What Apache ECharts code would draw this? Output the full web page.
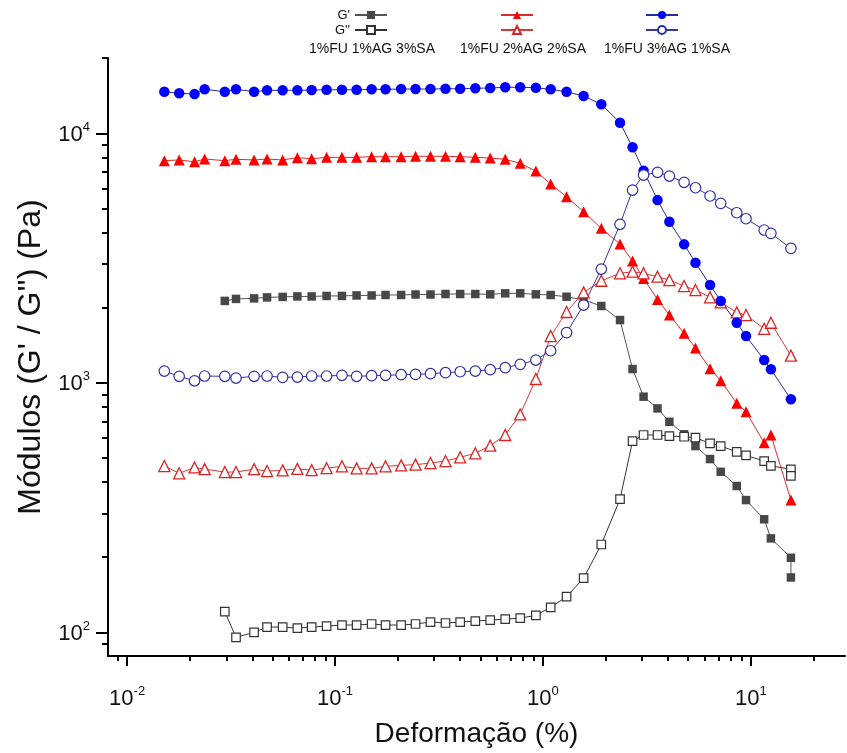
<!DOCTYPE html>
<html><head><meta charset="utf-8">
<script src="https://cdn.jsdelivr.net/npm/echarts@6/dist/echarts.min.js"></script>
<style>html,body{margin:0;padding:0;background:#fff}#c{width:847px;height:753px}</style>
</head><body><div id="c"></div>
<script>
// ---- data (strain %, moduli Pa) ----
const strain = [0.0151,0.0178,0.0211,0.0236,0.0295,0.0334,0.0408,0.0471,0.056,0.0659,0.0772,0.0911,0.108,0.127,0.15,0.175,0.208,0.244,0.288,0.34,0.4,0.473,0.558,0.659,0.778,0.925,1.09,1.3,1.57,1.91,2.35,2.7,3.05,3.56,4.06,4.78,5.42,6.37,7.17,8.56,9.49,11.6,12.5,15.6];
const strainBlack = [0.0295,0.0334,0.0408,0.0471,0.056,0.0659,0.0772,0.0911,0.108,0.127,0.15,0.175,0.208,0.244,0.288,0.34,0.4,0.473,0.558,0.659,0.778,0.925,1.09,1.3,1.57,1.91,2.35,2.7,3.05,3.56,4.06,4.78,5.42,6.37,7.17,8.56,9.49,11.6,12.5,15.6,15.6];

const blackGp  = [2130,2170,2180,2200,2210,2220,2220,2230,2230,2240,2240,2250,2250,2260,2260,2270,2270,2270,2263,2284,2284,2263,2249,2214,2150,2032,1785,1136,880,790,698,622,558,495,440,386,339,284,238,199,166];
const blackGpp = [121,95.5,100,105,105,104,105,106,107,107,108,107,107,108,110,109,110,111,112,113,114,117,126,139,165,225,342,584,618,618,612,608,603,572,558,529,512,486,465,450,424];
const redGp  = [7770,7820,7690,7890,7770,7870,7820,7890,7820,7990,7910,8010,8010,8010,8060,8060,8060,8090,8090,8090,8060,8010,7960,7870,7580,7060,6260,5570,4850,4160,3600,3080,2620,2160,1870,1580,1380,1140,1020,828,766,575,618,339];
const redGpp = [464,434,458,451,439,439,451,443,446,452,447,455,463,454,454,463,467,470,477,486,503,522,560,618,747,1036,1540,1923,2305,2566,2748,2789,2748,2663,2582,2443,2355,2202,2102,1916,1869,1647,1741,1286];
const blueGp  = [14680,14470,14370,15010,14680,15010,14680,14870,14870,14870,14910,14950,14950,14950,15010,15010,15050,15050,15050,15090,15090,15150,15200,15290,15290,15230,15010,14680,14110,13070,11030,8790,7080,5400,4420,3590,3030,2466,2128,1741,1540,1234,1133,859];
const blueGpp = [1115,1062,1019,1065,1062,1045,1062,1065,1052,1055,1065,1065,1072,1062,1068,1072,1078,1081,1088,1098,1108,1115,1129,1150,1186,1234,1345,1590,2050,2858,4318,5925,6805,6977,6743,6363,6053,5609,5241,4806,4547,4097,3973,3459];

const groupLabels = ['1%FU 1%AG 3%SA','1%FU 2%AG 2%SA','1%FU 3%AG 1%SA'];
const xMajor = [0.01,0.1,1,10];
const xMinor = [0.008,0.009,0.02,0.03,0.04,0.05,0.06,0.07,0.08,0.09,0.2,0.3,0.4,0.5,0.6,0.7,0.8,0.9,2,3,4,5,6,7,8,9,20];
const yMajor = [100,1000,10000];
const yMinor = [90,200,300,400,500,600,700,800,900,2000,3000,4000,5000,6000,7000,8000,9000,20000];

// ---- chart ----
const FONT = '"Liberation Sans", Arial, sans-serif';
const xMin = 0.00809, xMax = 28.4, yMin = 80.4, yMax = 20040;
const chart = echarts.init(document.getElementById('c'), null, {renderer: 'canvas'});

function pow10Label(v) {
  const e = Math.round(Math.log(v) / Math.LN10);
  return '{b|10}{s|' + e + '}';
}
const rich = {
  b: {fontSize: 22, fontFamily: FONT, color: '#111', lineHeight: 25, verticalAlign: 'bottom'},
  s: {fontSize: 13, fontFamily: FONT, color: '#111', lineHeight: 13, verticalAlign: 'top'}
};

function mk(name, xs, ys, symbol, size, fill, stroke, lineColor, bw) {
  return {
    name: name, type: 'line', xAxisIndex: 0, yAxisIndex: 0,
    data: xs.map((x, i) => [x, ys[i]]),
    symbol: symbol, symbolSize: size, showAllSymbol: true,
    itemStyle: {color: fill, borderColor: stroke, borderWidth: bw},
    lineStyle: {color: lineColor, width: 1},
    emphasis: {disabled: true}, animation: false
  };
}
const N = {
  bp: "G' " + groupLabels[0], bpp: "G'' " + groupLabels[0],
  rp: "G' " + groupLabels[1], rpp: "G'' " + groupLabels[1],
  up: "G' " + groupLabels[2], upp: "G'' " + groupLabels[2]
};
const series = [
  mk(N.bp, strainBlack, blackGp, 'rect', 8.5, '#474747', '#474747', '#555555', 0),
  mk(N.bpp, strainBlack, blackGpp, 'rect', 8.5, '#ffffff', '#333333', '#333333', 1.2),
  mk(N.rp, strain, redGp, 'triangle', 11, '#ff0000', '#ff0000', '#e02a2a', 0),
  mk(N.rpp, strain, redGpp, 'triangle', 11, '#ffffff', '#dd2222', '#d43a3a', 1.3),
  mk(N.up, strain, blueGp, 'circle', 10.5, '#0000ff', '#0000ff', '#2a2a9e', 0),
  mk(N.upp, strain, blueGpp, 'circle', 10.5, '#ffffff', '#2f2fa8', '#3535a5', 1.2)
];

const legendCommon = {
  orient: 'vertical', top: 8, padding: 0, itemGap: 1, itemWidth: 32, itemHeight: 10,
  selectedMode: false,
  textStyle: {fontSize: 13, lineHeight: 14, fontFamily: FONT, color: '#111'}
};

chart.setOption({
  animation: false,
  backgroundColor: '#ffffff',
  grid: {left: 108, right: 2, top: 58, bottom: 97, outerBoundsMode: 'none', containLabel: false},
  legend: [
    Object.assign({}, legendCommon, {right: 459, align: 'right', data: [N.bp, N.bpp],
      formatter: n => (n === N.bp ? "G'" : "G''")}),
    Object.assign({}, legendCommon, {left: 500, align: 'left', data: [N.rp, N.rpp], formatter: () => ' '}),
    Object.assign({}, legendCommon, {left: 645, align: 'left', data: [N.up, N.upp], formatter: () => ' '})
  ],
  graphic: [
    {type: 'text', x: 372, y: 49, style: {text: groupLabels[0], font: '14px ' + FONT, fill: '#111', align: 'center', verticalAlign: 'middle'}},
    {type: 'text', x: 523, y: 49, style: {text: groupLabels[1], font: '14px ' + FONT, fill: '#111', align: 'center', verticalAlign: 'middle'}},
    {type: 'text', x: 667, y: 49, style: {text: groupLabels[2], font: '14px ' + FONT, fill: '#111', align: 'center', verticalAlign: 'middle'}}
  ],
  xAxis: [
    {type: 'log', min: xMin, max: xMax, position: 'bottom',
      name: 'Deformação (%)', nameLocation: 'middle', nameGap: 64,
      nameTextStyle: {fontSize: 28, fontFamily: FONT, color: '#111'},
      axisLine: {show: true, lineStyle: {color: '#000', width: 2}},
      axisTick: {show: true, inside: false, length: 10, lineStyle: {color: '#000', width: 2}, customValues: xMajor},
      axisLabel: {show: true, margin: 29, formatter: pow10Label, rich: rich, customValues: xMajor},
      splitLine: {show: false}, minorTick: {show: false}},
    {type: 'log', min: xMin, max: xMax, position: 'bottom', offset: 0,
      axisLine: {show: false},
      axisTick: {show: true, inside: false, length: 5, lineStyle: {color: '#000', width: 2}, customValues: xMinor},
      axisLabel: {show: false}, splitLine: {show: false}}
  ],
  yAxis: [
    {type: 'log', min: yMin, max: yMax, position: 'left',
      name: "Módulos (G' / G'') (Pa)", nameLocation: 'middle', nameGap: 58, nameRotate: 90,
      nameTextStyle: {fontSize: 32, fontFamily: FONT, color: '#111'},
      axisLine: {show: true, lineStyle: {color: '#000', width: 2}},
      axisTick: {show: true, inside: false, length: 12, lineStyle: {color: '#000', width: 2}, customValues: yMajor},
      axisLabel: {show: true, margin: 18, formatter: pow10Label, rich: rich, customValues: yMajor},
      splitLine: {show: false}},
    {type: 'log', min: yMin, max: yMax, position: 'left', offset: 0,
      axisLine: {show: false},
      axisTick: {show: true, inside: false, length: 6, lineStyle: {color: '#000', width: 2}, customValues: yMinor},
      axisLabel: {show: false}, splitLine: {show: false}}
  ],
  series: series
});
</script>
</body></html>
